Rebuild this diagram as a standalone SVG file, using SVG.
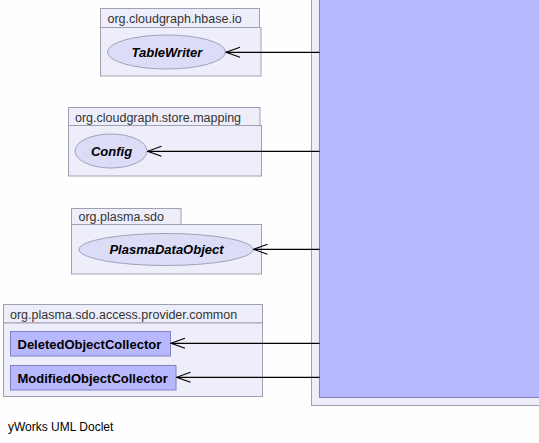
<svg xmlns="http://www.w3.org/2000/svg" width="539" height="443" viewBox="0 0 539 443">
<style>
.pkg{fill:#eeeefa;stroke:#a0a0b4;stroke-width:1}
.plabel{font-family:"Liberation Sans",Arial,sans-serif;font-size:12.5px;fill:#333}
.iface{fill:#dcdcf6;stroke:#a0a0bc;stroke-width:1}
.cls{fill:#b8b8ff;stroke:#8080c0;stroke-width:1}
.iname{font-family:"Liberation Sans",Arial,sans-serif;font-size:13px;font-weight:bold;font-style:italic;fill:#000;text-anchor:middle}
.cname{font-family:"Liberation Sans",Arial,sans-serif;font-size:13px;font-weight:bold;fill:#000}
.edge{stroke:#000;stroke-width:1.2;fill:none}
</style>
<defs>
<marker id="open" markerWidth="16" markerHeight="12" refX="15" refY="6" orient="auto" markerUnits="userSpaceOnUse">
<path d="M1,1 L15,6 L1,11" fill="none" stroke="#000" stroke-width="1.1"/>
</marker>
</defs>
<rect width="539" height="443" fill="#fefefe"/>
<g id="main">
<rect x="311.5" y="-10" width="240" height="415.5" class="pkg"/>
<rect x="319.5" y="-10" width="230" height="407.5" class="cls"/>
</g>
<g id="pkg-hbase-io">
<rect x="100.5" y="8.5" width="159" height="19" class="pkg"/>
<rect x="100.5" y="27.5" width="160.5" height="48.5" class="pkg"/>
<text x="107.5" y="22.5" class="plabel">org.cloudgraph.hbase.io</text>
</g>
<g id="TableWriter">
<ellipse cx="166.5" cy="52" rx="59" ry="17" class="iface"/>
<text x="167" y="56.5" class="iname">TableWriter</text>
</g>
<g id="pkg-store-mapping">
<rect x="68.5" y="107.5" width="191.5" height="18" class="pkg"/>
<rect x="68.5" y="125.5" width="193" height="50.5" class="pkg"/>
<text x="75" y="121.5" class="plabel">org.cloudgraph.store.mapping</text>
</g>
<g id="Config">
<ellipse cx="111" cy="151" rx="36" ry="17" class="iface"/>
<text x="111.5" y="155.5" class="iname">Config</text>
</g>
<g id="pkg-plasma-sdo">
<rect x="71.5" y="208.5" width="109.5" height="16" class="pkg"/>
<rect x="71.5" y="224.5" width="190" height="49.5" class="pkg"/>
<text x="78.5" y="220.5" class="plabel">org.plasma.sdo</text>
</g>
<g id="PlasmaDataObject">
<ellipse cx="166" cy="249.5" rx="87" ry="16" class="iface"/>
<text x="166.5" y="254" class="iname">PlasmaDataObject</text>
</g>
<g id="pkg-access-provider-common">
<rect x="3.5" y="304.5" width="259" height="18.5" class="pkg"/>
<rect x="3.5" y="323" width="259" height="73.5" class="pkg"/>
<text x="10" y="318.5" class="plabel">org.plasma.sdo.access.provider.common</text>
</g>
<g id="DeletedObjectCollector">
<rect x="10.5" y="331.5" width="160" height="24.5" class="cls"/>
<text x="17.5" y="348.5" class="cname">DeletedObjectCollector</text>
</g>
<g id="ModifiedObjectCollector">
<rect x="10.5" y="365.5" width="165.5" height="24.5" class="cls"/>
<text x="17.5" y="382.5" class="cname">ModifiedObjectCollector</text>
</g>
<g id="connectors">
<line x1="319.5" y1="52.3" x2="226" y2="52.3" class="edge" marker-end="url(#open)"/>
<line x1="319.5" y1="151.3" x2="147.5" y2="151.3" class="edge" marker-end="url(#open)"/>
<line x1="319.5" y1="249.3" x2="253.5" y2="249.3" class="edge" marker-end="url(#open)"/>
<line x1="319.5" y1="343.3" x2="171" y2="343.3" class="edge" marker-end="url(#open)"/>
<line x1="319.5" y1="377.3" x2="176.5" y2="377.3" class="edge" marker-end="url(#open)"/>
</g>
<text x="8" y="431" font-family="'Liberation Sans',Arial,sans-serif" font-size="12px" fill="#000">yWorks UML Doclet</text>
</svg>
